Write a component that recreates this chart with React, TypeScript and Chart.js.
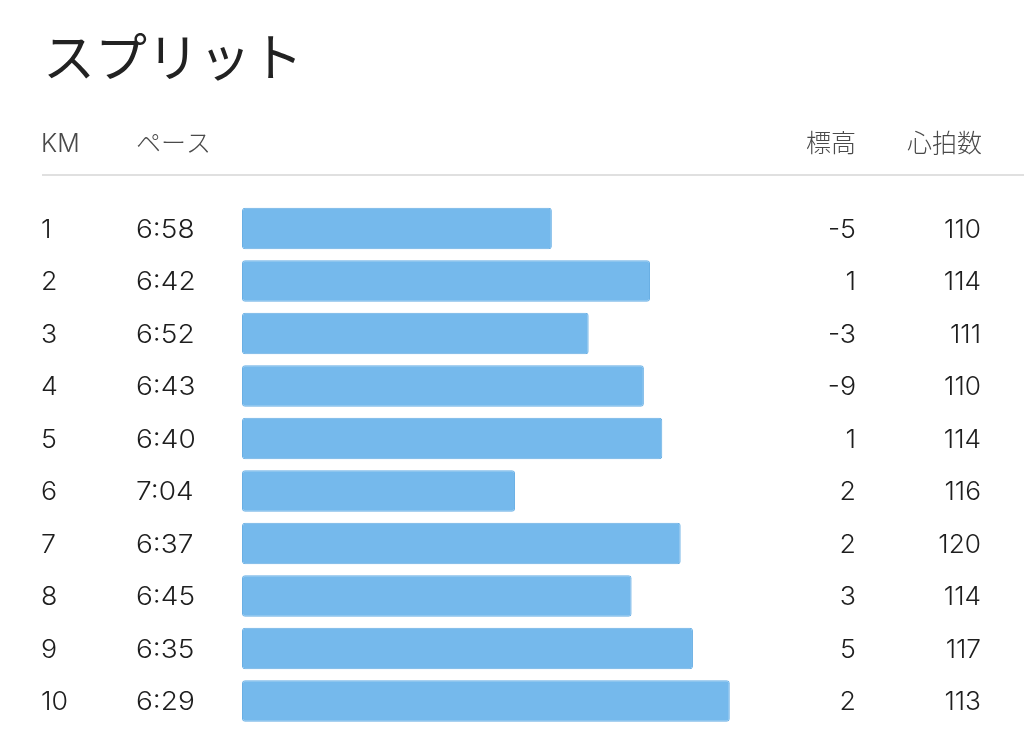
import { useEffect, useRef } from "react"
import { Chart, BarController, BarElement, LinearScale, CategoryScale } from "chart.js"
import type { Plugin } from "chart.js"

Chart.register(BarController, BarElement, LinearScale, CategoryScale)

const TITLE = "スプリット"
const HEAD_KM = "KM"
const HEAD_PACE = "ペース"
const HEAD_ELEVATION = "標高"
const HEAD_HEART = "心拍数"

const KM = ["1", "2", "3", "4", "5", "6", "7", "8", "9", "10"]
const PACE = ["6:58", "6:42", "6:52", "6:43", "6:40", "7:04", "6:37", "6:45", "6:35", "6:29"]
const ELEVATION = [-5, 1, -3, -9, 1, 2, 2, 3, 5, 2]
const HEART_RATE = [110, 114, 111, 110, 114, 116, 120, 114, 117, 113]

// bar axis in sec/km, reversed: slow end on the left, bars grow as pace gets faster
const PACE_SLOW_END = 468.5
const PACE_FAST_END = 380

const toSeconds = (p: string) => {
  const [m, s] = p.split(":").map(Number)
  return m * 60 + s
}

const LATIN = 'Inter, "Noto Sans CJK JP", sans-serif'
const CJK = '"Noto Sans CJK JP", sans-serif'

function drawStretched(
  ctx: CanvasRenderingContext2D,
  text: string,
  x: number,
  y: number,
  align: "left" | "right",
  stretch: number,
) {
  ctx.save()
  ctx.translate(x, y)
  ctx.scale(stretch, 1)
  ctx.textAlign = align
  ctx.fillText(text, 0, 0)
  ctx.restore()
}

const tablePlugin: Plugin<"bar"> = {
  id: "splitTable",
  afterDraw(chart) {
    const { ctx } = chart
    const y = chart.scales.y
    ctx.save()
    ctx.textBaseline = "alphabetic"

    ctx.fillStyle = "#222"
    ctx.font = `52px ${CJK}`
    ctx.textAlign = "left"
    ctx.fillText(TITLE, 43, 77)

    ctx.fillStyle = "#4a4a4a"
    ctx.font = `300 25px ${LATIN}`
    ctx.textAlign = "left"
    ctx.fillText(HEAD_KM, 41, 151.5)
    ctx.font = `300 25px ${CJK}`
    ctx.fillText(HEAD_PACE, 136, 151.5)
    ctx.textAlign = "right"
    ctx.fillText(HEAD_ELEVATION, 856, 151.5)
    ctx.fillText(HEAD_HEART, 982, 151.5)

    ctx.strokeStyle = "#e0e0e0"
    ctx.lineWidth = 2
    ctx.beginPath()
    ctx.moveTo(42, 175)
    ctx.lineTo(1024, 175)
    ctx.stroke()

    ctx.fillStyle = "#1e1e1e"
    ctx.font = `300 25.5px ${LATIN}`
    KM.forEach((km, i) => {
      const base = y.getPixelForValue(i) + 9.3
      drawStretched(ctx, km, 41, base, "left", 1.05)
      drawStretched(ctx, PACE[i], 136, base, "left", 1.1)
      drawStretched(ctx, String(ELEVATION[i]), 856, base, "right", 1.05)
      drawStretched(ctx, String(HEART_RATE[i]), 981, base, "right", 1.03)
    })
    ctx.restore()
  },
}

export default function App() {
  const canvasRef = useRef<HTMLCanvasElement>(null)

  useEffect(() => {
    document.body.style.margin = "0"
    document.body.style.background = "#fff"
    const canvas = canvasRef.current
    if (!canvas) return

    const chart = new Chart(canvas, {
      type: "bar",
      data: {
        labels: KM,
        datasets: [
          {
            data: PACE.map((p) => [PACE_SLOW_END, toSeconds(p)]) as any,
            backgroundColor: "#75b9ec",
            borderColor: "#69afe4",
            borderWidth: 1,
            borderRadius: 3,
            borderSkipped: false,
            barPercentage: 0.787,
            categoryPercentage: 1,
          },
        ],
      },
      options: {
        indexAxis: "y",
        animation: false,
        responsive: true,
        maintainAspectRatio: false,
        layout: { padding: { left: 242, right: 239, top: 202.25, bottom: 10.75 } },
        plugins: { legend: { display: false }, tooltip: { enabled: false } },
        scales: {
          x: { type: "linear", reverse: true, min: PACE_FAST_END, max: PACE_SLOW_END, display: false },
          y: { type: "category", display: false },
        },
      },
      plugins: [tablePlugin],
    })

    return () => chart.destroy()
  }, [])

  return (
    <div style={{ width: 1024, height: 738, position: "relative", background: "#fff" }}>
      <canvas ref={canvasRef} role="img" aria-label={TITLE} />
    </div>
  )
}
